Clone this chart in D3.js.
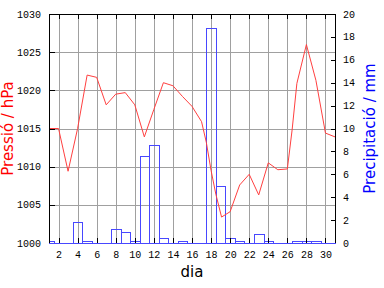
<!DOCTYPE html>
<html>
<head>
<meta charset="utf-8">
<script src="https://cdn.jsdelivr.net/npm/d3@7"></script>
<style>
  body { margin: 0; background: #fff; }
  svg { display: block; }
</style>
</head>
<body>
<div id="chart"></div>
<script>
// pressure readings (day of month, hPa)
const pressDays = [1, 2, 3, 4, 5, 6, 7, 8, 9, 10, 11, 12, 13, 14, 15, 16, 17, 17.5, 18, 18.5, 19.1, 20, 21, 22, 23, 24, 25, 26, 26.5, 27, 28, 29, 30, 31]
const pressVals = [1015.0, 1015.0, 1009.4, 1015.0, 1022.0, 1021.7, 1018.1, 1019.5, 1019.7, 1018.1, 1013.9, 1017.5, 1021.0, 1020.6, 1019.2, 1017.9, 1015.9, 1013.2, 1009.5, 1006.4, 1003.4, 1004.1, 1007.6, 1009.0, 1006.3, 1010.5, 1009.6, 1009.7, 1014.8, 1020.9, 1026.0, 1021.3, 1014.4, 1013.9]

// daily precipitation (mm)
const rainDays = d3.range(1, 32)
const rainVals = [0.2, 0, 0, 1.8, 0.2, 0, 0, 1.2, 1.0, 0.2, 7.6, 8.6, 0.4, 0, 0.2, 0, 0, 18.8, 5.0, 0.4, 0.2, 0, 0.8, 0.2, 0, 0, 0.2, 0.2, 0.2, 0, 0]

const dayTicks = d3.range(2, 31, 2)
const pressTicks = [1000, 1005, 1010, 1015, 1020, 1025, 1030]
const rainTicks = d3.range(0, 21, 2)

const W = 384, H = 288
const pL = 49, pR = 335, pT = 14, pB = 243

const x = d3.scaleLinear().domain([1, 31]).range([pL, pR])
const yP = d3.scaleLinear().domain([1000, 1030]).range([pB, pT])
const yR = d3.scaleLinear().domain([0, 20]).range([pB, pT])
const px = v => Math.round(v) + 0.5

const svg = d3.select('#chart').append('svg')
    .attr('width', W).attr('height', H)

svg.append('defs').append('clipPath').attr('id', 'plot')
    .append('rect').attr('x', pL).attr('y', pT - 2)
    .attr('width', pR - pL + 1).attr('height', pB - pT + 3)

// grid
const grid = svg.append('g').attr('stroke', '#a0a0a0').attr('shape-rendering', 'crispEdges')
grid.selectAll('line.v').data(dayTicks).enter().append('line')
    .attr('x1', d => px(x(d))).attr('x2', d => px(x(d)))
    .attr('y1', pT).attr('y2', pB)
grid.selectAll('line.h').data(pressTicks.slice(1, -1)).enter().append('line')
    .attr('x1', pL).attr('x2', pR)
    .attr('y1', d => px(yP(d))).attr('y2', d => px(yP(d)))

// precipitation bars
svg.append('g').attr('clip-path', 'url(#plot)')
    .selectAll('rect').data(rainDays.filter((d, i) => rainVals[i] > 0)).enter().append('rect')
    .attr('x', d => px(x(d - 0.5)))
    .attr('y', d => px(yR(rainVals[d - 1])))
    .attr('width', d => Math.round(x(d + 0.5)) - Math.round(x(d - 0.5)))
    .attr('height', d => Math.round(yR(0)) - Math.round(yR(rainVals[d - 1])))
    .attr('fill', 'none').attr('stroke', '#4848ff')
    .attr('shape-rendering', 'crispEdges')

// pressure line
const line = d3.line().x(d => x(d)).y((d, i) => yP(pressVals[i]))
svg.append('path').datum(pressDays)
    .attr('d', line)
    .attr('fill', 'none').attr('stroke', '#ff4040').attr('stroke-width', 1)

// frame and ticks
const frame = svg.append('g').attr('shape-rendering', 'crispEdges')
frame.append('line').attr('x1', pL).attr('x2', pR + 1).attr('y1', px(pT)).attr('y2', px(pT)).attr('stroke', '#000')
frame.append('line').attr('x1', px(pL)).attr('x2', px(pL)).attr('y1', pT).attr('y2', pB).attr('stroke', '#000')
frame.append('line').attr('x1', px(pR)).attr('x2', px(pR)).attr('y1', pT).attr('y2', pB).attr('stroke', '#000')
frame.append('line').attr('x1', pL).attr('x2', pR + 1).attr('y1', px(pB)).attr('y2', px(pB)).attr('stroke', '#4848ff')

frame.selectAll('line.tt').data(dayTicks).enter().append('line')
    .attr('x1', d => px(x(d))).attr('x2', d => px(x(d)))
    .attr('y1', pT).attr('y2', pT + 5).attr('stroke', '#000')
frame.selectAll('line.tb').data(dayTicks).enter().append('line')
    .attr('x1', d => px(x(d))).attr('x2', d => px(x(d)))
    .attr('y1', pB - 5).attr('y2', pB).attr('stroke', '#000')
frame.selectAll('line.tl').data(pressTicks.slice(1, -1)).enter().append('line')
    .attr('x1', pL).attr('x2', pL + 6)
    .attr('y1', d => px(yP(d))).attr('y2', d => px(yP(d))).attr('stroke', '#000')
frame.selectAll('line.tr').data(rainTicks.slice(1, -1)).enter().append('line')
    .attr('x1', pR - 4).attr('x2', pR)
    .attr('y1', d => px(yR(d))).attr('y2', d => px(yR(d))).attr('stroke', '#000')

// tick labels
const mono = 'Liberation Mono, DejaVu Sans Mono, monospace'
svg.append('g').selectAll('text').data(pressTicks).enter().append('text')
    .attr('x', pL - 8).attr('y', d => yP(d) + 3.5)
    .attr('text-anchor', 'end').attr('font-family', mono).attr('font-size', 10)
    .text(d => d)
svg.append('g').selectAll('text').data(rainTicks).enter().append('text')
    .attr('x', pR + 8).attr('y', d => yR(d) + 3.5)
    .attr('text-anchor', 'start').attr('font-family', mono).attr('font-size', 10)
    .text(d => d)
svg.append('g').selectAll('text').data(dayTicks).enter().append('text')
    .attr('x', d => x(d) + 0.5).attr('y', 258)
    .attr('text-anchor', 'middle').attr('font-family', mono).attr('font-size', 10)
    .text(d => d)

// axis titles
const sans = 'DejaVu Sans, sans-serif'
svg.append('text')
    .attr('transform', `translate(13,${(pT + pB) / 2}) rotate(-90)`)
    .attr('text-anchor', 'middle').attr('font-family', sans).attr('font-size', 15)
    .attr('fill', '#ff0000').text('Pressió / hPa')
svg.append('text')
    .attr('transform', `translate(375,${(pT + pB) / 2}) rotate(-90)`)
    .attr('text-anchor', 'middle').attr('font-family', sans).attr('font-size', 15)
    .attr('fill', '#0000ff').text('Precipitació / mm')
svg.append('text')
    .attr('x', (pL + pR) / 2).attr('y', 277)
    .attr('text-anchor', 'middle').attr('font-family', sans).attr('font-size', 15)
    .attr('fill', '#000').text('dia')
</script>
</body>
</html>
